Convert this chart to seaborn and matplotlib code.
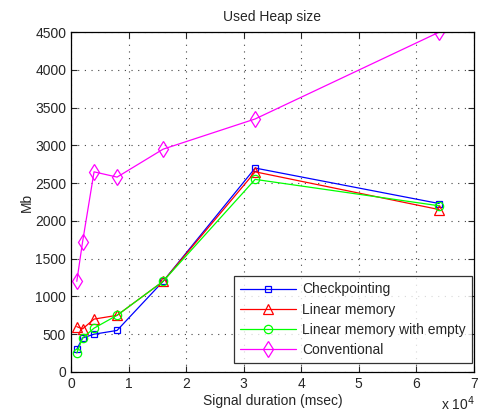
import numpy as np
import pandas as pd
import matplotlib
matplotlib.use("Agg")
import matplotlib.pyplot as plt
import seaborn as sns

# signal durations in msec
durations = [1000, 2000, 4000, 8000, 16000, 32000, 64000]

checkpointing = [300, 450, 500, 550, 1200, 2700, 2230]
linear_memory = [600, 570, 700, 750, 1200, 2650, 2150]
linear_memory_empty = [250, 450, 580, 750, 1200, 2550, 2200]
conventional = [1200, 1720, 2650, 2580, 2950, 3350, 4500]

series_names = ["Checkpointing", "Linear memory", "Linear memory with empty", "Conventional"]
series_values = [checkpointing, linear_memory, linear_memory_empty, conventional]
colors = ["#0000ff", "#ff0000", "#00ff00", "#ff00ff"]
markers = ["s", "^", "o", "d"]
msizes = [5, 6.5, 6, 8]

sns.set_style("ticks")
plt.rcParams["font.family"] = ["Liberation Sans", "DejaVu Sans"]

fig = plt.figure(figsize=(4.8, 4.17), dpi=100)
ax = fig.add_axes([0.148, 0.108, 0.839, 0.815])

for name, vals, c, m, ms in zip(series_names, series_values, colors, markers, msizes):
    df = pd.DataFrame({"duration": durations, "heap": vals})
    sns.lineplot(data=df, x="duration", y="heap", ax=ax, color=c, marker=m,
                 markersize=ms, markerfacecolor="none", markeredgecolor=c,
                 markeredgewidth=0.9, linewidth=0.9, label=name)

ax.set_xlim(0, 70000)
ax.set_ylim(0, 4500)
ax.set_xticks(np.arange(0, 70001, 10000))
ax.set_xticklabels([str(i) for i in range(8)])
ax.set_yticks(np.arange(0, 4501, 500))
ax.tick_params(direction="in", top=True, right=True, labelsize=10, length=4, width=0.8)
ax.grid(True, color="#444444", linestyle=(0, (1, 5)), linewidth=0.8)
for s in ax.spines.values():
    s.set_linewidth(0.9)
    s.set_color("black")

ax.set_title("Used Heap size", fontsize=10, pad=8)
ax.set_xlabel("Signal duration (msec)", fontsize=10, labelpad=2)
ax.set_ylabel("Mb", fontsize=10, labelpad=1)
fig.text(0.955, 0.01, r"x 10$^4$", fontsize=10, ha="center", va="bottom")

leg = ax.legend(loc="lower right", bbox_to_anchor=(0.996, 0.025), fontsize=10,
                frameon=True, fancybox=False, edgecolor="black", borderaxespad=0,
                handlelength=4.0, handletextpad=0.45, labelspacing=0.45, borderpad=0.45)
leg.get_frame().set_linewidth(0.9)

fig.savefig("out.png", dpi=100, facecolor="white")
